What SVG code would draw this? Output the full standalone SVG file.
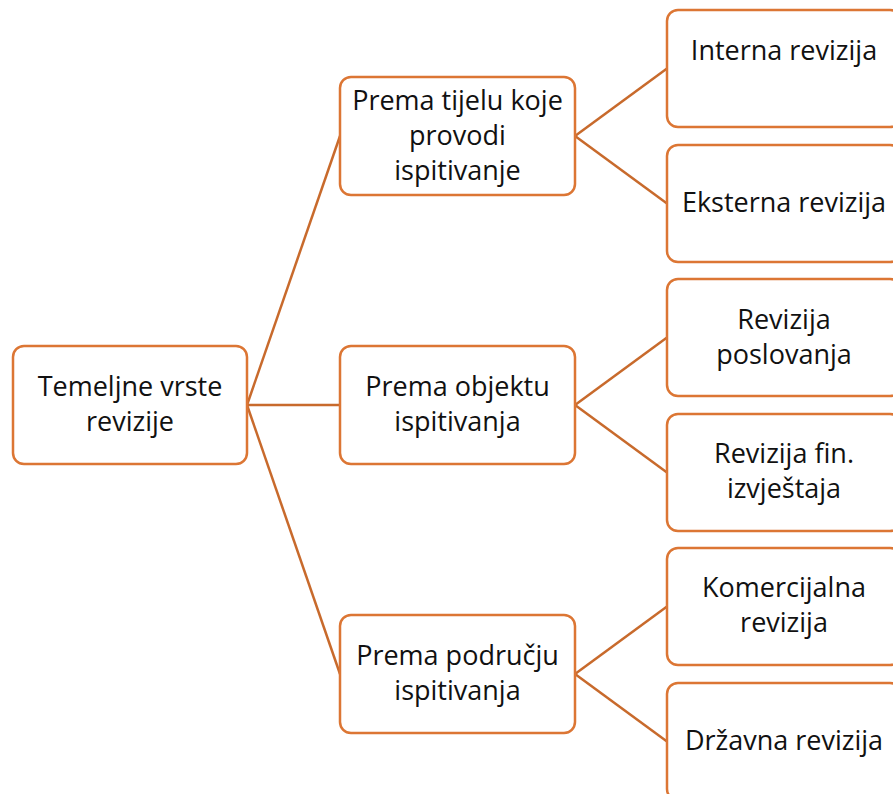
<svg xmlns="http://www.w3.org/2000/svg" width="893" height="794" viewBox="0 0 893 794">
<style>
.box{fill:#fff;stroke:#DC7634;stroke-width:2.5}
.ln{stroke:#C86A2C;stroke-width:2.5;fill:none}
text{font-family:"Open Sans","Noto Sans","Liberation Sans",sans-serif;font-size:27px;fill:#111;text-anchor:middle}
</style>
<rect width="893" height="794" fill="#fff"/>
<g id="connectors">
<line class="ln" x1="247" y1="405" x2="340" y2="136"/>
<line class="ln" x1="247" y1="405" x2="340" y2="405"/>
<line class="ln" x1="247" y1="405" x2="340" y2="674"/>
<line class="ln" x1="575" y1="136" x2="667" y2="68.5"/>
<line class="ln" x1="575" y1="136" x2="667" y2="203.5"/>
<line class="ln" x1="575" y1="405" x2="667" y2="337.5"/>
<line class="ln" x1="575" y1="405" x2="667" y2="472.5"/>
<line class="ln" x1="575" y1="674" x2="667" y2="606.5"/>
<line class="ln" x1="575" y1="674" x2="667" y2="741.5"/>
</g>
<g id="root"><rect class="box" x="13" y="346" width="234" height="118" rx="11"/><text x="130" y="396">Temeljne vrste</text><text x="130" y="431">revizije</text></g>
<g id="m1"><rect class="box" x="340" y="77" width="235" height="118" rx="11"/><text x="457.5" y="110">Prema tijelu koje</text><text x="457.5" y="145">provodi</text><text x="457.5" y="180">ispitivanje</text></g>
<g id="m2"><rect class="box" x="340" y="346" width="235" height="118" rx="11"/><text x="457.5" y="396">Prema objektu</text><text x="457.5" y="431">ispitivanja</text></g>
<g id="m3"><rect class="box" x="340" y="615" width="235" height="118" rx="11"/><text x="457.5" y="665">Prema području</text><text x="457.5" y="700">ispitivanja</text></g>
<g id="r1"><rect class="box" x="667" y="10" width="234" height="117" rx="11"/><text x="784" y="60">Interna revizija</text></g>
<g id="r2"><rect class="box" x="667" y="145" width="234" height="117" rx="11"/><text x="784" y="212">Eksterna revizija</text></g>
<g id="r3"><rect class="box" x="667" y="279" width="234" height="117" rx="11"/><text x="784" y="329">Revizija</text><text x="784" y="364">poslovanja</text></g>
<g id="r4"><rect class="box" x="667" y="414" width="234" height="117" rx="11"/><text x="784" y="463">Revizija fin.</text><text x="784" y="498">izvještaja</text></g>
<g id="r5"><rect class="box" x="667" y="548" width="234" height="117" rx="11"/><text x="784" y="597">Komercijalna</text><text x="784" y="632">revizija</text></g>
<g id="r6"><rect class="box" x="667" y="683" width="234" height="117" rx="11"/><text x="784" y="750">Državna revizija</text></g>
</svg>
